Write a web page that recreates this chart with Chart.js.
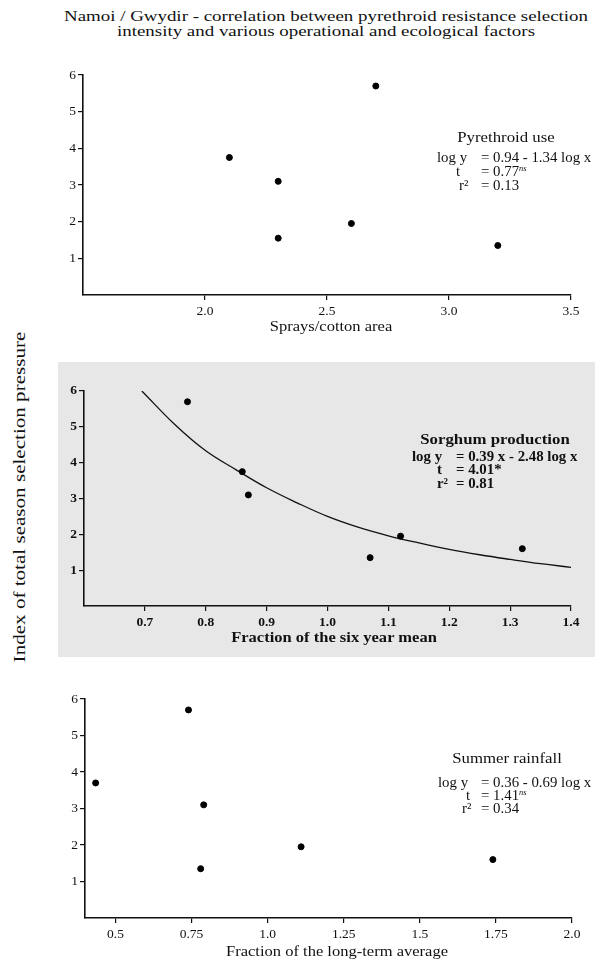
<!DOCTYPE html>
<html>
<head>
<meta charset="utf-8">
<script src="https://cdn.jsdelivr.net/npm/chart.js@4/dist/chart.umd.min.js"></script>
<style>
  html, body { margin: 0; padding: 0; background: #fff; }
  #page { position: relative; width: 595px; height: 960px; overflow: hidden; font-family: "Liberation Serif", "DejaVu Serif", serif; color: #111; }
  canvas { position: absolute; left: 40px; }
  .title { position: absolute; left: 326px; top: 8px; transform: translateX(-50%) scaleX(1.22); text-align: center; font-size: 15.5px; line-height: 15px; white-space: nowrap; }
  .ytitle { position: absolute; left: 20px; top: 497px; transform: translate(-50%, -50%) rotate(-90deg) scaleX(1.24); font-size: 17px; white-space: nowrap; }
  .shade { position: absolute; left: 58px; top: 362px; width: 537px; height: 295px; background: #e7e7e7; }
  .xt { position: absolute; font-size: 14px; white-space: nowrap; transform: translate(-50%, -50%) scaleX(1.18); }
  .t { position: absolute; font-size: 14px; line-height: 14px; white-space: nowrap; transform-origin: 0 50%; transform: translateY(-50%) scaleX(1.06); }
  .h { position: absolute; font-size: 15px; white-space: nowrap; transform: translate(-50%, -50%) scaleX(1.12); }
  .b { font-weight: bold; }
  sup { font-size: 8px; font-style: italic; line-height: 0; vertical-align: 5px; }
</style>
</head>
<body>
<div id="page">
  <div class="title">Namoi / Gwydir - correlation between pyrethroid resistance selection<br>intensity and various operational and ecological factors</div>
  <div class="ytitle">Index of total season selection pressure</div>
  <div class="shade"></div>

  <canvas id="c1" width="555" height="290" style="top:60px"></canvas>
  <canvas id="c2" width="555" height="290" style="top:360px"></canvas>
  <canvas id="c3" width="555" height="300" style="top:660px"></canvas>

  <!-- axis titles -->
  <div class="xt" style="left:331px;top:327px">Sprays/cotton area</div>
  <div class="xt b" style="left:334px;top:638px">Fraction of the six year mean</div>
  <div class="xt" style="left:337px;top:952px">Fraction of the long-term average</div>

  <!-- annotations -->
  <div class="h" style="left:506px;top:137px">Pyrethroid use</div>
  <div class="t" style="left:437px;top:158px">log y</div><div class="t" style="left:481px;top:158px">= 0.94 - 1.34 log x</div>
  <div class="t" style="left:456px;top:172px">t</div><div class="t" style="left:481px;top:172px">= 0.77<sup>ns</sup></div>
  <div class="t" style="left:459px;top:186px">r²</div><div class="t" style="left:481px;top:186px">= 0.13</div>

  <div class="h b" style="left:495px;top:439px">Sorghum production</div>
  <div class="t b" style="left:412px;top:457px">log y</div><div class="t b" style="left:456px;top:457px">= 0.39 x - 2.48 log x</div>
  <div class="t b" style="left:437px;top:470px">t</div><div class="t b" style="left:456px;top:470px">= 4.01*</div>
  <div class="t b" style="left:437px;top:484px">r²</div><div class="t b" style="left:456px;top:484px">= 0.81</div>

  <div class="h" style="left:507px;top:758px">Summer rainfall</div>
  <div class="t" style="left:438px;top:783px">log y</div><div class="t" style="left:481px;top:783px">= 0.36 - 0.69 log x</div>
  <div class="t" style="left:466px;top:796px">t</div><div class="t" style="left:481px;top:796px">= 1.41<sup>ns</sup></div>
  <div class="t" style="left:462px;top:809px">r²</div><div class="t" style="left:481px;top:809px">= 0.34</div>
</div>

<script>
// --- data ---
const yTicks = [1, 2, 3, 4, 5, 6];

// Pyrethroid use (sprays / cotton area)
const pyrX = [2.1, 2.3, 2.3, 2.6, 2.7, 3.2];
const pyrY = [3.75, 3.1, 1.55, 1.95, 5.7, 1.35];
const pyrTicks = [2.0, 2.5, 3.0, 3.5];

// Sorghum production (fraction of the six year mean)
const sorX = [0.77, 0.86, 0.87, 1.07, 1.12, 1.32];
const sorY = [5.7, 3.75, 3.1, 1.35, 1.95, 1.6];
const sorFitX = [0.695, 0.75, 0.8, 0.85, 0.9, 0.95, 1.0, 1.05, 1.1, 1.15, 1.2, 1.25, 1.3, 1.35, 1.4];
const sorFitY = [6.0, 5.05, 4.33, 3.8, 3.3, 2.88, 2.5, 2.2, 1.96, 1.76, 1.58, 1.43, 1.3, 1.18, 1.08];
const sorTicks = [0.7, 0.8, 0.9, 1.0, 1.1, 1.2, 1.3, 1.4];

// Summer rainfall (fraction of the long-term average)
const rainX = [0.435, 0.74, 0.79, 0.78, 1.11, 1.74];
const rainY = [3.7, 5.7, 3.1, 1.35, 1.95, 1.6];
const rainTicks = [0.5, 0.75, 1.0, 1.25, 1.5, 1.75, 2.0];
const rainLabels = ["0.5", "0.75", "1.0", "1.25", "1.5", "1.75", "2.0"];

const pts = (xs, ys) => xs.map((x, i) => ({ x, y: ys[i] }));

function panel(id, cfg) {
  const font = { family: "'Liberation Serif', serif", size: 13.5, weight: cfg.bold ? "bold" : "normal" };
  const axisBits = {
    border: { display: true, color: "#111", width: 1.6 },
    grid: { display: true, drawOnChartArea: false, drawTicks: true, tickLength: 5, color: "#111", lineWidth: 1.2 },
  };
  const datasets = [{
    data: pts(cfg.xs, cfg.ys), backgroundColor: "#000", borderColor: "#000",
    pointRadius: 3, pointHoverRadius: 3,
  }];
  if (cfg.fitX) {
    datasets.push({
      data: pts(cfg.fitX, cfg.fitY), showLine: true, borderColor: "#111", borderWidth: 1.3,
      pointRadius: 0, tension: 0.4, fill: false,
    });
  }
  return new Chart(document.getElementById(id), {
    type: "scatter",
    data: { datasets },
    options: {
      responsive: false, animation: false, devicePixelRatio: 1,
      layout: { padding: cfg.pad },
      plugins: { legend: { display: false }, tooltip: { enabled: false } },
      scales: {
        x: {
          type: "linear", min: cfg.xmin, max: cfg.xmax, ...axisBits,
          afterBuildTicks: (s) => { s.ticks = cfg.xticks.map((v) => ({ value: v })); },
          afterFit: (s) => { s.height = cfg.xh; },
          ticks: {
            color: "#111", font, padding: 3, autoSkip: false, maxRotation: 0,
            callback: (v, i) => cfg.xlabels ? cfg.xlabels[i] : v.toFixed(1),
          },
        },
        y: {
          type: "linear", min: 0, max: 6, ...axisBits,
          afterBuildTicks: (s) => { s.ticks = yTicks.map((v) => ({ value: v })); },
          afterFit: (s) => { s.width = cfg.yw; },
          ticks: { color: "#111", font, padding: 2 },
        },
      },
    },
  });
}

panel("c1", {
  xs: pyrX, ys: pyrY, xmin: 1.5, xmax: 3.5, xticks: pyrTicks,
  pad: { top: 15, right: 24, bottom: 0, left: 0 }, yw: 43, xh: 55,
});
panel("c2", {
  xs: sorX, ys: sorY, fitX: sorFitX, fitY: sorFitY, xmin: 0.6, xmax: 1.4, xticks: sorTicks, bold: true,
  pad: { top: 31, right: 24, bottom: 0, left: 0 }, yw: 44, xh: 44,
});
panel("c3", {
  xs: rainX, ys: rainY, xmin: 0.4, xmax: 2.0, xticks: rainTicks, xlabels: rainLabels,
  pad: { top: 39, right: 23, bottom: 0, left: 0 }, yw: 45, xh: 42,
});
</script>
</body>
</html>
